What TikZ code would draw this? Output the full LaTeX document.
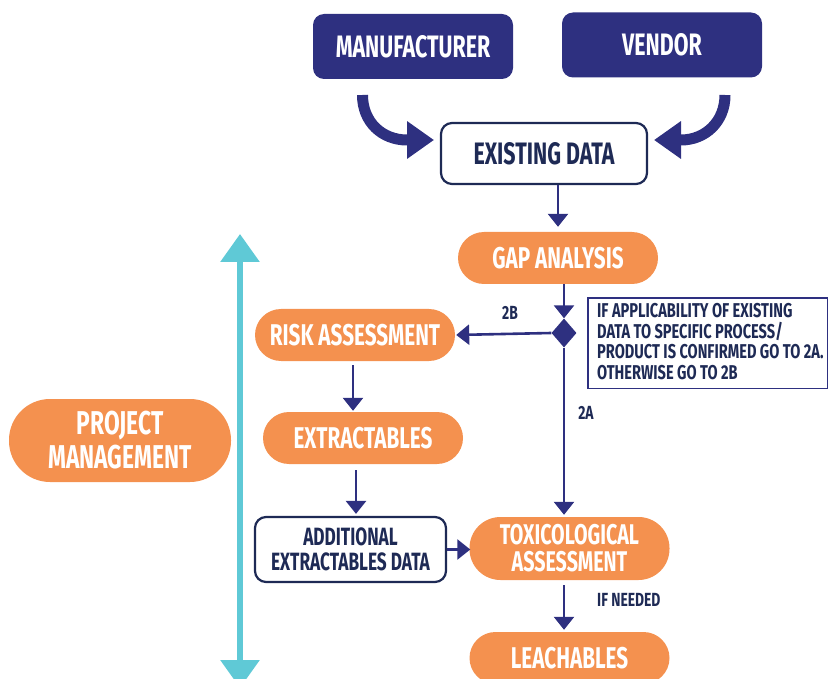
\documentclass[tikz,border=0pt]{standalone}
\usepackage{fontspec}
\newfontfamily\cond{Fira Sans}[FakeStretch=0.69]
\newfontfamily\condw{Fira Sans}[FakeStretch=0.73]
\usetikzlibrary{arrows.meta,shapes.geometric,calc}
\definecolor{navy}{HTML}{2E3080}
\definecolor{ink}{HTML}{1E2A55}
\definecolor{orng}{HTML}{F4914F}
\definecolor{teal}{HTML}{5FC9D6}
\begin{document}
\begin{tikzpicture}[x=1pt,y=-1pt,
  every node/.style={font=\cond\bfseries},
  navybox/.style={fill=navy,text=white,rounded corners=11pt,minimum width=200pt,minimum height=65pt,font=\cond\bfseries\fontsize{31}{33}\selectfont},
  whitebox/.style={draw=ink,line width=2.2pt,fill=white,text=ink,rounded corners=11pt,align=center},
  pill/.style={fill=orng,text=white,rounded corners=26pt,minimum width=200pt,minimum height=52pt,align=center,font=\cond\bfseries\fontsize{30}{28}\selectfont},
  flow/.style={draw=navy,line width=2.6pt,-{Triangle[width=20pt,length=13pt]}},
  bigcurve/.style={draw=navy,line width=11pt,-{Triangle[width=36pt,length=27pt]}},
  lbl/.style={text=ink,font=\condw\bfseries\fontsize{19}{21}\selectfont,inner sep=0pt}
]
\useasboundingbox (0,0) rectangle (828,679);
\clip (0,0) rectangle (828,679);

% sources and existing data
\node[navybox] (mfr) at (413,46.5) {MANUFACTURER};
\node[navybox] (ven) at (662,45) {VENDOR};
\node[whitebox,minimum width=206pt,minimum height=61pt,font=\cond\bfseries\fontsize{31}{33}\selectfont] (ex) at (544,153.5) {EXISTING DATA};

% bent arrows feeding the existing data
\coordinate (m0) at (362.5,95);
\coordinate (m1) at (434,140);
\coordinate (v0) at (725,95);
\coordinate (v1) at (654,140);
\draw[bigcurve] (m0) .. controls (362.5,122) and (382,140) .. (407,140) -- (m1);
\draw[bigcurve] (v0) .. controls (725,122) and (705,140) .. (681,140) -- (v1);

% main chain
\node[pill] (gap) at (558,258) {GAP ANALYSIS};
\node[diamond,fill=navy,minimum width=25pt,minimum height=29pt,inner sep=0pt] (dec) at (564,333) {};
\draw[flow,shorten >=5pt] (ex.south -| gap.north) -- (gap.north);
\draw[flow] (gap.south -| dec.north) -- (dec.north);

\node[pill] (risk) at (355,335) {RISK ASSESSMENT};
\node[pill] (ext) at (363,438) {EXTRACTABLES};
\node[whitebox,minimum width=191pt,minimum height=65pt,font=\cond\bfseries\fontsize{25}{25.5}\selectfont] (add) at (350.5,549.5) {ADDITIONAL\\EXTRACTABLES DATA};
\node[pill,minimum height=63pt,rounded corners=31pt,font=\cond\bfseries\fontsize{28.5}{27}\selectfont] (tox) at (569.5,548.5) {TOXICOLOGICAL\\ASSESSMENT};
\node[pill] (lea) at (569.5,658) {LEACHABLES};

\draw[flow,shorten >=1pt] (dec.west) -- (risk.east);
\draw[flow,shorten >=2pt] (dec.south) -- (dec.south |- tox.north);
\draw[flow,shorten <=4pt,shorten >=1pt] (risk.south -| 353,0) -- (ext.north -| 353,0);
\draw[flow,shorten <=6pt,shorten >=2pt] (ext.south -| 356,0) -- (add.north -| 356,0);
\draw[flow,shorten >=-1pt] (add.east) -- (add.east -| tox.west);
\draw[flow,shorten <=5pt,shorten >=2pt] (tox.south -| 564,0) -- (lea.north -| 564,0);

% labels on connectors
\node[lbl] (l2b) at (510,313) {2B};
\node[lbl] (l2a) at (586,413) {2A};
\node[lbl,anchor=west] (lneed) at (597,600) {IF NEEDED};

% decision note: frame and its text
\node[draw=navy,line width=1.6pt,anchor=north west,minimum width=240pt,minimum height=90pt,inner sep=0pt] (note) at (587,297.5) {};
\node[anchor=north west,inner sep=0pt,align=left,text=ink,
      font=\condw\bfseries\fontsize{20}{20.5}\selectfont] (notetext) at ([xshift=10pt,yshift=-6pt]note.north west)
  {IF APPLICABILITY OF EXISTING\\DATA TO SPECIFIC PROCESS/\\PRODUCT IS CONFIRMED GO TO 2A.\\OTHERWISE GO TO 2B};

% project management axis
\node[pill,minimum width=222pt,minimum height=83pt,rounded corners=41pt,font=\cond\bfseries\fontsize{33}{34}\selectfont] (pm) at (120,440.5) {PROJECT\\MANAGEMENT};
\coordinate (ptop) at (240,234);
\coordinate (pbot) at (240,688);
\draw[draw=teal,line width=6pt,{Triangle[width=38pt,length=28pt]}-{Triangle[width=38pt,length=28pt]}] (ptop) -- (pbot);
\end{tikzpicture}
\end{document}
